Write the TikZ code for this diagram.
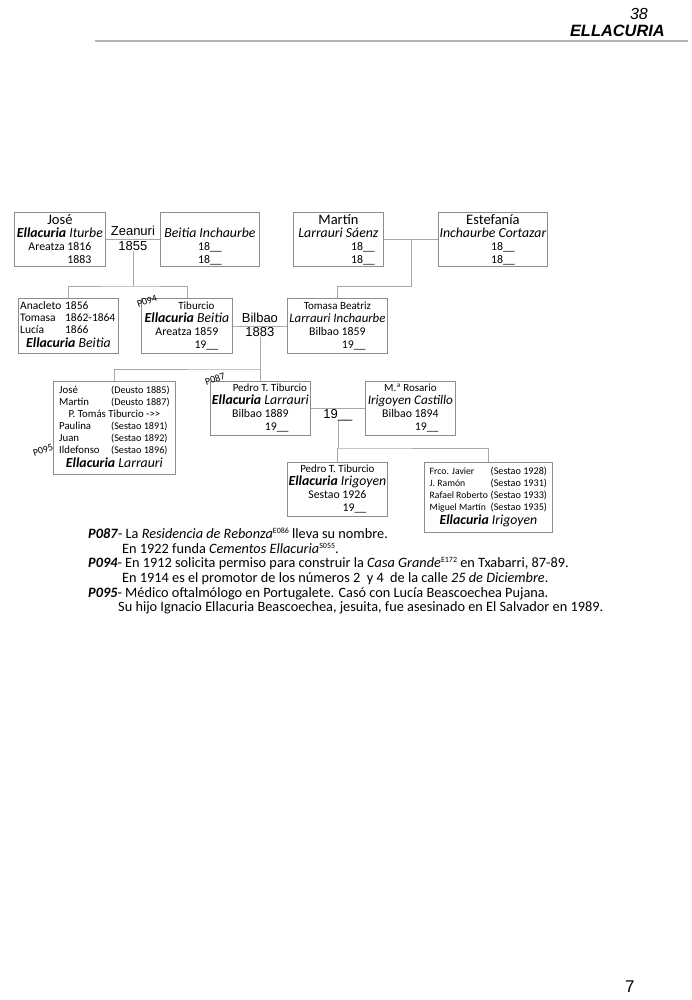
\documentclass[tikz,border=0pt]{standalone}
\usepackage{fontspec}
\setmainfont{Carlito}
\newfontfamily\arialf{Liberation Sans}
\usepackage{array}
\usetikzlibrary{positioning,calc}
\definecolor{boxline}{HTML}{8C8C8C}
\definecolor{treeline}{HTML}{A8A8A8}
\definecolor{ruleline}{HTML}{B4B4B4}
\newcommand\ellac{\textbf{\textit{Ellacuria}}}
\newcommand\fgiven{\fontsize{14.5}{13}\selectfont}
\newcommand\fsurn{\fontsize{13.8}{13}\selectfont}
\newcommand\fsmall{\fontsize{11}{13}\selectfont}
\newcommand\fplace{\fontsize{11.8}{13}\selectfont}
\newcommand\fdate{\fontsize{10.2}{12}\selectfont}
\newcommand\refsup[1]{\raisebox{0.75ex}{\fontsize{8}{8}\selectfont #1}}

\begin{document}
\begin{tikzpicture}[x=1pt,y=-1pt,
  person/.style={draw=boxline, line width=0.8pt, anchor=north west, inner sep=0pt, align=center, font=\fplace},
  tree/.style={draw=treeline, line width=0.7pt},
  place/.style={font=\arialf\fontsize{13}{13}\selectfont, inner sep=0pt},
  tag/.style={font=\fontsize{10}{10}\selectfont, inner sep=0pt, rotate=18}]
\useasboundingbox (0,0) rectangle (691,1000);

% cabecera
\node[anchor=base east, inner sep=0pt, font=\arialf\itshape\fontsize{16}{16}\selectfont] (pagina) at (648,20) {38};
\node[anchor=base east, inner sep=0pt, font=\arialf\bfseries\itshape\fontsize{16.4}{16}\selectfont] (titulo) at (665,37) {ELLACURIA};
\draw[draw=ruleline, line width=1.6pt] (95,41) -- (688,41);

% abuelos
\node[person, minimum width=91pt, minimum height=54pt] (jose) at (14,212)
  {{\fgiven José}\\ {\fsurn\ellac\ \textit{Iturbe}}\\ Areatza 1816\\ \phantom{Areatza\ }1883};
\node[person, minimum width=99pt, minimum height=54pt] (beitia) at (160,212)
  {{\fgiven\vphantom{José}}\\ {\fsurn\itshape Beitia Inchaurbe}\\ 18\_\_\\ 18\_\_};
\node[person, minimum width=90pt, minimum height=54pt] (martin) at (293,212)
  {{\fgiven Martín}\\ {\fsurn\itshape Larrauri Sáenz}\\ \hspace*{49pt}18\_\_\\ \hspace*{49pt}18\_\_};
\node[person, minimum width=109pt, minimum height=54pt] (estefania) at (438,212)
  {{\fgiven Estefanía}\\ {\fsurn\itshape Inchaurbe Cortazar}\\ \hspace*{20pt}18\_\_\\ \hspace*{20pt}18\_\_};

% padres
\node[person, minimum width=100pt, minimum height=55pt, font=\fontsize{11.5}{12}\selectfont] (anacleto) at (18,298)
  {\begin{tabular}{@{}p{45pt}@{}l@{}}
     Anacleto & 1856\\ Tomasa & 1862-1864\\ Lucía & 1866\\[1pt]
     \multicolumn{2}{c}{\fsurn\ellac\ \textit{Beitia}}
   \end{tabular}};
\node[person, minimum width=91pt, minimum height=55pt] (tiburcio) at (141,298)
  {{\fsmall\hspace*{19pt}Tiburcio}\\ {\fsurn\ellac\ \textit{Beitia}}\\ Areatza 1859\\ \phantom{Areatza\ }19\_\_};
\node[person, minimum width=100pt, minimum height=55pt] (tomasa) at (287,298)
  {{\fsmall Tomasa Beatriz}\\ {\fontsize{12.8}{13}\selectfont\itshape Larrauri Inchaurbe}\\ Bilbao 1859\\ \phantom{Bilbao\ }19\_\_};

% hijos
\node[person, minimum width=122pt, minimum height=93pt, font=\fontsize{10.8}{12}\selectfont] (kids1) at (53,381)
  {\begin{tabular}{@{}p{52pt}@{}>{\fdate}l@{}}
     José & (Deusto 1885)\\ Martín & (Deusto 1887)\\
     \multicolumn{2}{c}{P. Tomás Tiburcio ->{}>}\\
     Paulina & (Sestao 1891)\\ Juan & (Sestao 1892)\\ Ildefonso & (Sestao 1896)\\[1pt]
     \multicolumn{2}{c}{\fsurn\ellac\ \textit{Larrauri}}
   \end{tabular}};
\node[person, minimum width=100pt, minimum height=54pt] (pedro) at (210,381)
  {{\fsmall\hspace*{19pt}Pedro T. Tiburcio}\\ {\fsurn\ellac\ \textit{Larrauri}}\\ Bilbao 1889\\ \phantom{Bilbao\ }19\_\_};
\node[person, minimum width=90pt, minimum height=54pt] (rosario) at (365,381)
  {{\fsmall M.ª Rosario}\\ {\fontsize{13.2}{13}\selectfont\itshape Irigoyen Castillo}\\ Bilbao 1894\\ \phantom{Bilbao\ }19\_\_};

% nietos
\node[person, minimum width=100pt, minimum height=54pt] (kid2) at (287,462)
  {{\fsmall Pedro T. Tiburcio}\\ {\fsurn\ellac\ \textit{Irigoyen}}\\ Sestao 1926\\ \phantom{Sestao\ }19\_\_};
\node[person, minimum width=128pt, minimum height=70pt, font=\fontsize{9.7}{12}\selectfont] (frco) at (424,462)
  {\begin{tabular}{@{}p{61pt}@{}>{\fdate}l@{}}
     Frco. Javier & (Sestao 1928)\\ J. Ramón & (Sestao 1931)\\
     Rafael Roberto & (Sestao 1933)\\ Miguel Martín & (Sestao 1935)\\[1pt]
     \multicolumn{2}{c}{\fsurn\ellac\ \textit{Irigoyen}}
   \end{tabular}};

% referencias
\node[tag] (t094) at (147,301) {P094};
\node[tag] (t087) at (215,379) {P087};
\node[tag] (t095) at (43,450) {P095};

% enlaces
\draw[tree] (jose.east) -- (beitia.west);
\node[place, above=4pt] (zeanuri) at ($(jose.east)!.5!(beitia.west)$) {Zeanuri};
\node[place, below=1.5pt] (y1855) at ($(jose.east)!.5!(beitia.west)$) {1855};
\coordinate (fork1) at (y1855.south |- 0,286);
\draw[tree] (y1855.south) -- (fork1);
\draw[tree] (anacleto.north) |- (fork1) -| (tiburcio.north);

\draw[tree] (martin.east) -- (estefania.west);
\coordinate (mid2) at ($(martin.east)!.5!(estefania.west)$);
\draw[tree] (mid2) -- (mid2 |- fork1) -| (tomasa.north);

\draw[tree] (tiburcio.east) -- (tomasa.west);
\node[place, above=3.5pt] (bilbao) at ($(tiburcio.east)!.5!(tomasa.west)$) {Bilbao};
\node[place, below=1.5pt] (y1883) at ($(tiburcio.east)!.5!(tomasa.west)$) {1883};
\coordinate (fork2) at (y1883.south |- 0,369);
\draw[tree] (y1883.south) -- (fork2);
\draw[tree] (kids1.north) |- (fork2) -| (pedro.north);

\draw[tree] (pedro.east) -- (rosario.west);
\node[place, below=1pt] (y19) at ($(pedro.east)!.5!(rosario.west)$) {19\_\_};
\coordinate (fork3) at (y19.south |- 0,448);
\draw[tree] (y19.south) -- (fork3);
\draw[tree] (kid2.north) |- (fork3) -| (frco.north);

% notas
\node[anchor=north west, inner sep=0pt, align=left, font=\fontsize{14.3}{14.6}\selectfont] (notas) at (88,528)
  {\textbf{\textit{P087}}- La \textit{Residencia de Rebonza}\refsup{E086} lleva su nombre.\\
   \hspace*{34pt}En 1922 funda \textit{Cementos Ellacuria}\refsup{S055}.\\
   \textbf{\textit{P094}}- En 1912 solicita permiso para construir la \textit{Casa Grande}\refsup{E172} en Txabarri, 87-89.\\
   \hspace*{34pt}En 1914 es el promotor de los números 2 \ y 4 \ de la calle \textit{25 de Diciembre}.\\
   \textbf{\textit{P095}}- Médico oftalmólogo en Portugalete. Casó con Lucía Beascoechea Pujana.\\
   \hspace*{30pt}Su hijo Ignacio Ellacuria Beascoechea, jesuita, fue asesinado en El Salvador en 1989.};

% folio
\node[anchor=base west, inner sep=0pt, font=\arialf\fontsize{17}{17}\selectfont] (folio) at (625,992) {7};
\end{tikzpicture}
\end{document}
